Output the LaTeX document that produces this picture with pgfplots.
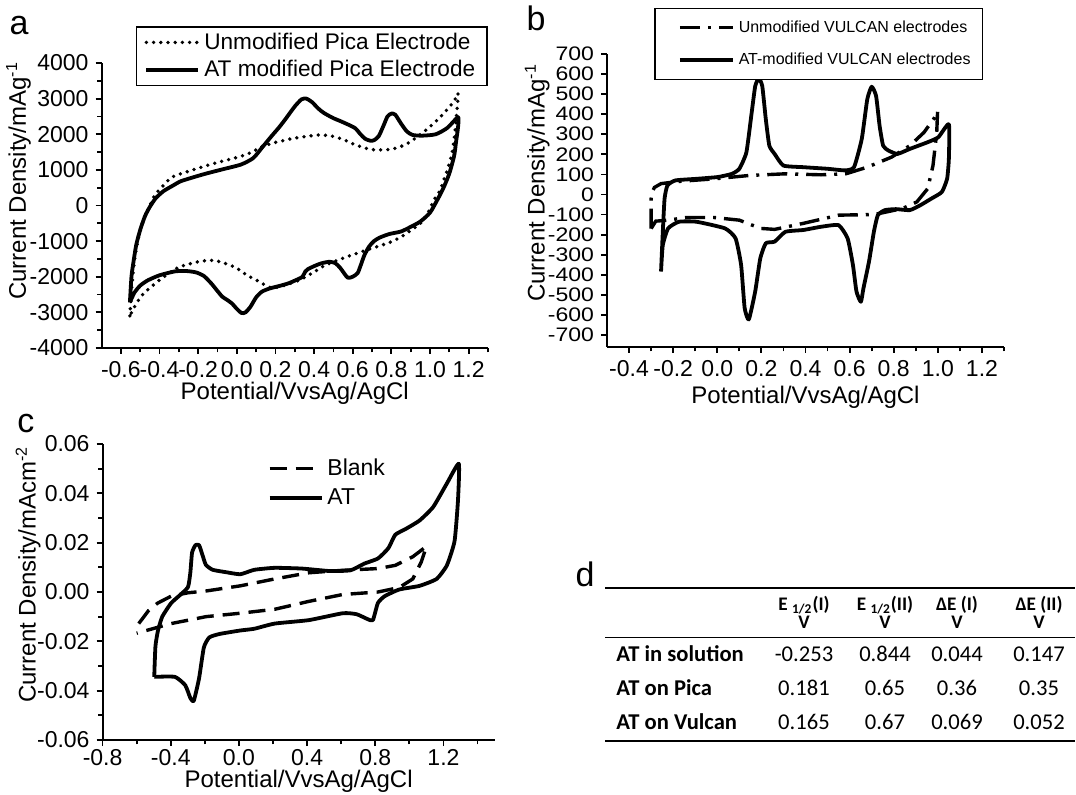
\documentclass[border=0pt]{standalone}
\usepackage{pgfplots}
\pgfplotsset{compat=1.18}
\usepackage{fontspec}
\setmainfont{Liberation Sans}
\newfontfamily\calibri{Carlito}

\pgfplotsset{
  cvaxis/.style={
    scale only axis, anchor=north west,
    axis x line*=bottom, axis y line*=left,
    tick align=outside,
    major tick length=3pt, minor tick length=2.2pt,
    every tick/.style={black, line width=0.9pt},
    axis line style={line width=1pt},
    tick label style={font=\fontsize{11.5}{13}\selectfont},
    label style={font=\fontsize{12}{14}\selectfont},
    /pgf/number format/assume math mode=true,
    legend cell align=left,
    clip=false,
  },
  dotline/.style={black, line width=1.9pt, line cap=round, dash pattern=on 0pt off 3.6pt},
  solidline/.style={black, line width=1.9pt, line join=round},
  dashdotline/.style={black, line width=1.7pt, dash pattern=on 10pt off 4pt on 1.5pt off 4pt},
  dashline/.style={black, line width=1.7pt, dash pattern=on 8.5pt off 4.5pt},
  longimg/.style={legend image code/.code={\draw[##1] (0pt,0pt) -- (26pt,0pt);}},
  shiftimg/.style={legend image code/.code={\path (0pt,0pt); \draw[##1] (7.5pt,0pt) -- (34pt,0pt);}},
}

\begin{document}
\begin{tikzpicture}
\useasboundingbox (0,0) rectangle (538pt,-397.5pt);

% ---------- panel a
\begin{axis}[cvaxis, longimg,
  at={(50.75pt,-31.5pt)}, width=193.25pt, height=142.5pt,
  xmin=-0.7, xmax=1.3, ymin=-4000, ymax=4000,
  xtick={-0.6,-0.4,-0.2,0,0.2,0.4,0.6,0.8,1.0,1.2},
  minor xtick={-0.5,-0.3,-0.1,0.1,0.3,0.5,0.7,0.9,1.1,1.3},
  ytick={-4000,-3000,...,4000},
  minor ytick={-3500,-2500,-1500,-500,500,1500,2500,3500},
  xticklabel style={/pgf/number format/.cd, fixed, fixed zerofill, precision=1},
  yticklabel style={/pgf/number format/1000 sep={}},
  xlabel={Potential/VvsAg/AgCl},
  ylabel={Current Density/mAg\textsuperscript{-1}},
  xlabel style={at={(axis description cs:0.5,-0.16)}, anchor=center},
  ylabel style={at={(axis description cs:-0.215,0.586)}, anchor=center},
  legend style={at={(1,1.13)}, anchor=north east, draw=black, line width=0.8pt,
    font=\fontsize{11.3}{13}\selectfont, inner xsep=4pt, inner ysep=1pt, row sep=0pt},
]
\addplot[dotline, smooth, tension=0.4] coordinates {
(-0.553,-3100) (-0.545,-2400) (-0.535,-1800) (-0.52,-1200) (-0.50,-700) (-0.475,-300)
(-0.45,0) (-0.423,300) (-0.38,560) (-0.334,800) (-0.25,960) (-0.156,1120) (-0.07,1250)
(0.022,1380) (0.08,1500) (0.129,1650) (0.20,1770) (0.289,1880) (0.36,1940) (0.432,1980)
(0.50,1940) (0.557,1840) (0.61,1710) (0.664,1610) (0.70,1570) (0.753,1560) (0.80,1580)
(0.842,1640) (0.89,1760) (0.931,1920) (0.98,2120) (1.038,2400) (1.09,2700) (1.127,2950)
(1.145,3150)
(1.14,2700) (1.13,2100) (1.115,1500) (1.09,1000) (1.073,744) (1.05,400) (1.02,150)
(0.985,-250) (0.95,-500) (0.90,-700) (0.845,-900) (0.78,-1060) (0.672,-1250) (0.58,-1420)
(0.50,-1580) (0.45,-1700) (0.396,-1880) (0.33,-2080) (0.276,-2190) (0.22,-2280)
(0.172,-2300) (0.11,-2120) (0.051,-1950) (0.0,-1760) (-0.052,-1640) (-0.10,-1560)
(-0.139,-1540) (-0.20,-1580) (-0.294,-1720) (-0.35,-1900) (-0.397,-2080) (-0.44,-2270)
(-0.484,-2480) (-0.52,-2750) (-0.553,-3100)
};
\addlegendentry{Unmodified Pica Electrode}
\addplot[solidline, smooth, tension=0.4] coordinates {
(-0.553,-2720) (-0.545,-2000) (-0.535,-1600) (-0.52,-1100) (-0.50,-690) (-0.475,-300)
(-0.45,-40) (-0.42,200) (-0.38,400) (-0.33,560) (-0.29,680) (-0.22,800) (-0.156,900)
(-0.07,1020) (0.022,1150) (0.085,1330) (0.13,1620) (0.182,1960) (0.22,2200) (0.254,2440)
(0.30,2780) (0.335,2980) (0.36,3000) (0.39,2900) (0.42,2730) (0.45,2600) (0.50,2450)
(0.54,2360) (0.61,2180) (0.64,2000) (0.665,1870) (0.69,1820) (0.71,1830) (0.735,1950)
(0.76,2250) (0.78,2500) (0.80,2580) (0.82,2550) (0.85,2300) (0.88,2080) (0.91,1980)
(0.96,1960) (1.03,2000) (1.09,2180) (1.145,2480)
(1.145,2200) (1.135,1800) (1.125,1400) (1.10,900) (1.07,500) (1.04,180) (1.0,-200)
(0.95,-450) (0.90,-600) (0.85,-730) (0.79,-800) (0.74,-900) (0.71,-1000) (0.685,-1150)
(0.66,-1400) (0.64,-1700) (0.625,-1900) (0.60,-2000) (0.575,-2030) (0.555,-1900)
(0.535,-1750) (0.51,-1620) (0.48,-1580) (0.44,-1620) (0.41,-1680) (0.37,-1780)
(0.355,-1850) (0.34,-2000) (0.32,-2060) (0.27,-2180) (0.22,-2260) (0.17,-2330)
(0.13,-2420) (0.10,-2580) (0.07,-2850) (0.045,-3000) (0.025,-3020) (0.0,-2900)
(-0.025,-2750) (-0.05,-2650) (-0.075,-2560) (-0.10,-2400) (-0.13,-2200) (-0.17,-1980)
(-0.21,-1880) (-0.26,-1840) (-0.32,-1850) (-0.40,-1960) (-0.46,-2100) (-0.50,-2250)
(-0.53,-2450) (-0.553,-2720)
};
\addlegendentry{AT modified Pica Electrode}
\end{axis}

% ---------- panel b
\begin{axis}[cvaxis, shiftimg,
  at={(303.5pt,-27pt)}, width=198.5pt, height=146.5pt,
  xmin=-0.5, xmax=1.3, ymin=-760, ymax=700,
  xtick={-0.4,-0.2,0,0.2,0.4,0.6,0.8,1.0,1.2},
  minor xtick={-0.3,-0.1,0.1,0.3,0.5,0.7,0.9,1.1,1.3},
  ytick={-700,-600,...,700},
  yticklabel style={font=\fontsize{11.5}{11.5}\selectfont, yscale=0.85},
  xticklabel style={/pgf/number format/.cd, fixed, fixed zerofill, precision=1},
  xlabel={Potential/VvsAg/AgCl},
  ylabel={Current Density/mAg\textsuperscript{-1}},
  xlabel style={at={(axis description cs:0.5,-0.171)}, anchor=center},
  ylabel style={at={(axis description cs:-0.176,0.56)}, anchor=center},
  legend style={at={(0.948,1.158)}, anchor=north east, draw=black, line width=0.8pt,
    font=\fontsize{8}{10}\selectfont, inner xsep=4pt, inner ysep=4pt, row sep=5pt},
]
\addplot[dashdotline] coordinates {
(-0.300,-170) (-0.300,-21) (-0.295,12) (-0.285,35) (-0.255,54) (-0.174,65) (-0.013,78)
(0.148,95) (0.309,103) (0.47,98) (0.583,103) (0.68,136) (0.79,186) (0.873,243)
(0.937,309) (0.986,384) (0.999,417)
(0.995,309) (0.978,144) (0.954,29) (0.905,-37) (0.84,-70) (0.712,-100) (0.551,-103)
(0.39,-144) (0.26,-174) (0.196,-169) (0.10,-128) (-0.013,-115) (-0.142,-115)
(-0.223,-128) (-0.279,-133) (-0.300,-170)
};
\addlegendentry{Unmodified VULCAN electrodes}
\addplot[solidline, smooth, tension=0.3] coordinates {
(-0.255,-384) (-0.247,-186) (-0.239,-21) (-0.226,45) (-0.19,70) (-0.094,78) (0.003,87)
(0.067,103) (0.10,128) (0.132,210) (0.156,408) (0.172,540) (0.188,578) (0.204,540)
(0.22,375) (0.236,243) (0.26,202) (0.30,144) (0.39,136) (0.50,128) (0.58,120)
(0.62,136) (0.655,276) (0.68,474) (0.70,537) (0.72,491) (0.736,342) (0.752,243)
(0.776,219) (0.817,202) (0.873,227) (0.953,260) (1.002,285) (1.05,350)
(1.05,177) (1.042,78) (1.018,12) (0.97,-21) (0.92,-54) (0.873,-78) (0.81,-73)
(0.76,-78) (0.728,-103) (0.71,-186) (0.688,-334) (0.663,-466) (0.651,-535)
(0.631,-483) (0.615,-351) (0.591,-219) (0.55,-153) (0.47,-161) (0.39,-177)
(0.309,-186) (0.26,-235) (0.22,-243) (0.195,-318) (0.172,-483) (0.143,-623)
(0.124,-565) (0.108,-351) (0.083,-219) (0.035,-169) (-0.094,-136) (-0.174,-136)
(-0.223,-169) (-0.247,-252) (-0.255,-384)
};
\addlegendentry{AT-modified VULCAN electrodes}
\end{axis}

% ---------- panel c
\begin{axis}[cvaxis, longimg,
  at={(51.3pt,-222pt)}, width=196pt, height=148pt,
  xmin=-0.8, xmax=1.5, ymin=-0.06, ymax=0.06,
  xtick={-0.8,-0.4,0,0.4,0.8,1.2},
  minor xtick={-0.6,-0.2,0.2,0.6,1.0,1.4},
  ytick={-0.06,-0.04,-0.02,0,0.02,0.04,0.06},
  minor ytick={-0.05,-0.03,-0.01,0.01,0.03,0.05},
  xticklabel style={inner sep=0.5pt, yshift=-1pt, /pgf/number format/.cd, fixed, fixed zerofill, precision=1},
  yticklabel style={/pgf/number format/.cd, fixed, fixed zerofill, precision=2},
  scaled y ticks=false,
  xlabel={Potential/VvsAg/AgCl},
  ylabel={Current Density/mAcm\textsuperscript{-2}},
  xlabel style={at={(axis description cs:0.5,-0.14)}, anchor=center, inner sep=0pt},
  ylabel style={at={(axis description cs:-0.19,0.559)}, anchor=center},
  legend style={at={(0.42,0.965)}, anchor=north west, draw=none, fill=none,
    font=\fontsize{11.5}{13}\selectfont, inner sep=0pt, row sep=1pt},
]
\addplot[dashline] coordinates {
(-0.588,-0.0128) (-0.53,-0.0075) (-0.477,-0.0045) (-0.398,-0.0017) (-0.297,-0.0003)
(-0.194,0.0004) (0.008,0.0025) (0.21,0.0053) (0.41,0.0078) (0.61,0.0088) (0.816,0.0095)
(0.917,0.0108) (1.02,0.0143) (1.10,0.0185)
(1.07,0.0122) (1.02,0.0053) (0.94,0.0018) (0.816,0.0) (0.61,-0.001) (0.41,-0.0038)
(0.21,-0.007) (0.008,-0.0086) (-0.194,-0.010) (-0.398,-0.0128) (-0.6,-0.0167)
};
\addlegendentry{Blank}
\addplot[solidline, smooth, tension=0.3] coordinates {
(-0.497,-0.0344) (-0.49,-0.022) (-0.475,-0.0156) (-0.45,-0.010) (-0.398,-0.0045)
(-0.35,-0.0015) (-0.299,0.002) (-0.285,0.008) (-0.275,0.016) (-0.255,0.0190)
(-0.234,0.019) (-0.214,0.015) (-0.194,0.011) (-0.154,0.009) (-0.073,0.008) (0.008,0.0072)
(0.09,0.009) (0.21,0.0098) (0.37,0.0095) (0.533,0.0085) (0.655,0.0088) (0.735,0.0115)
(0.816,0.0136) (0.877,0.0178) (0.917,0.0232) (0.977,0.0255) (1.06,0.029) (1.14,0.0345)
(1.22,0.044) (1.29,0.052)
(1.285,0.037) (1.265,0.0206) (1.22,0.0108) (1.16,0.0053) (1.06,0.0025) (0.94,0.001)
(0.855,-0.0017) (0.815,-0.0045) (0.786,-0.0114) (0.755,-0.0110) (0.69,-0.009)
(0.61,-0.0086) (0.41,-0.0114) (0.21,-0.0128) (0.09,-0.0149) (0.008,-0.0156)
(-0.113,-0.017) (-0.174,-0.0184) (-0.206,-0.0225) (-0.234,-0.035) (-0.265,-0.0441)
(-0.285,-0.043) (-0.315,-0.0378) (-0.376,-0.0344) (-0.497,-0.0344)
};
\addlegendentry{AT}
\end{axis}

% ---------- panel letters
\node[font=\fontsize{17}{19}\selectfont] at (9.5pt,-13pt) {a};
\node[font=\fontsize{17}{19}\selectfont] at (268pt,-9pt) {b};
\node[font=\fontsize{17}{19}\selectfont] at (13pt,-212pt) {c};
\node[font=\fontsize{17}{19}\selectfont] at (292.5pt,-287pt) {d};

% ---------- table d
\draw[line width=0.75pt] (302.5pt,-294pt) -- (537.5pt,-294pt);
\draw[line width=0.75pt] (302.5pt,-318.75pt) -- (537.5pt,-318.75pt);
\draw[line width=0.6pt] (302.5pt,-370.5pt) -- (537.5pt,-370.5pt);
\begin{scope}[every node/.style={font=\calibri\bfseries\fontsize{9.6}{11}\selectfont, inner sep=0pt}]
\node at (402pt,-302.5pt) {E \textsubscript{1/2}(I)};
\node at (442.5pt,-302.5pt) {E \textsubscript{1/2}(II)};
\node at (478.5pt,-302.5pt) {ΔE (I)};
\node at (519.5pt,-302.5pt) {ΔE (II)};
\node at (402pt,-311pt) {V};
\node at (442.5pt,-311pt) {V};
\node at (478.5pt,-311pt) {V};
\node at (519.5pt,-311pt) {V};
\end{scope}
\begin{scope}[every node/.style={font=\calibri\bfseries\fontsize{11.3}{13}\selectfont, inner sep=0pt, anchor=west}]
\node at (308pt,-327pt) {AT in solution};
\node at (308pt,-344pt) {AT on Pica};
\node at (308pt,-361pt) {AT on Vulcan};
\end{scope}
\begin{scope}[every node/.style={font=\calibri\fontsize{11.3}{13}\selectfont, inner sep=0pt}]
\node at (402pt,-327pt) {-0.253};
\node at (442.5pt,-327pt) {0.844};
\node at (478.5pt,-327pt) {0.044};
\node at (519.5pt,-327pt) {0.147};
\node at (402pt,-344pt) {0.181};
\node at (442.5pt,-344pt) {0.65};
\node at (478.5pt,-344pt) {0.36};
\node at (519.5pt,-344pt) {0.35};
\node at (402pt,-361pt) {0.165};
\node at (442.5pt,-361pt) {0.67};
\node at (478.5pt,-361pt) {0.069};
\node at (519.5pt,-361pt) {0.052};
\end{scope}
\end{tikzpicture}
\end{document}
